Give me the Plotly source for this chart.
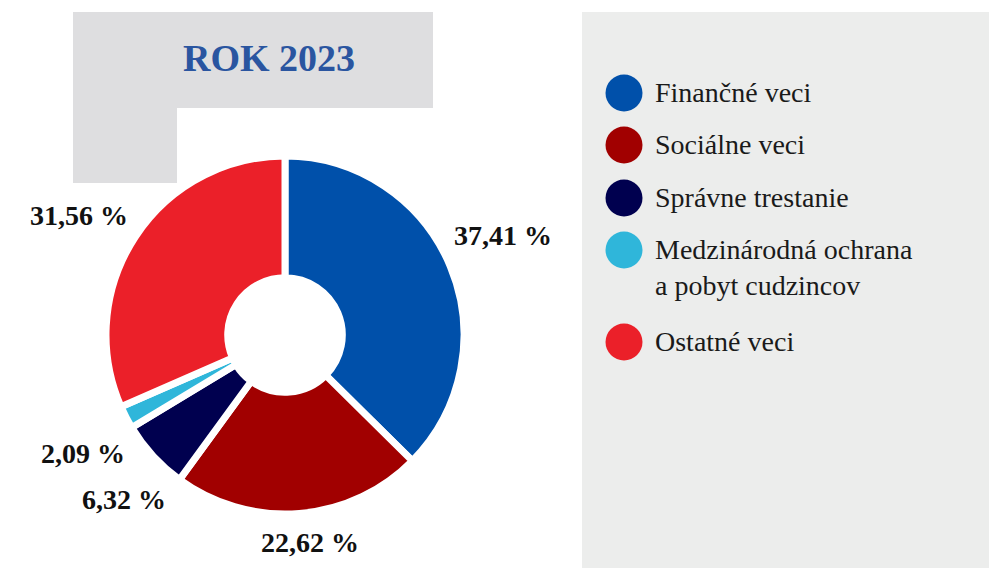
import math
import plotly.graph_objects as go

categories = ["Finančné veci", "Sociálne veci", "Správne trestanie",
              "Medzinárodná ochrana<br>a pobyt cudzincov", "Ostatné veci"]
values = [37.41, 22.62, 6.32, 2.09, 31.56]
colors = ["#0050AA", "#A10000", "#00004F", "#2FB6DA", "#EB2029"]
title_text = "ROK 2023"

W, H = 989, 568
SERIF = "Liberation Serif, Times New Roman, serif"

def px(x):
    return x / W

def py(y):
    return 1 - y / H

# pie geometry (pixels)
CX, CY, R = 285, 335, 176
RD = R + 3  # domain half-size (plotly draws slightly inside)

fig = go.Figure()
fig.add_trace(go.Pie(
    labels=categories, values=values, sort=False, direction="clockwise",
    rotation=0, hole=0.32,
    marker=dict(colors=colors, line=dict(color="white", width=7)),
    textinfo="none",
    showlegend=False, hoverinfo="label+percent",
    domain=dict(x=[px(CX - RD), px(CX + RD)], y=[py(CY + RD), py(CY - RD)]),
))

shapes = [
    dict(type="rect", xref="paper", yref="paper", x0=px(73), x1=px(433), y0=py(108), y1=py(12),
         fillcolor="#DEDEE0", line=dict(width=0), layer="below"),
    dict(type="rect", xref="paper", yref="paper", x0=px(73), x1=px(177), y0=py(183), y1=py(107),
         fillcolor="#DEDEE0", line=dict(width=0), layer="below"),
    dict(type="rect", xref="paper", yref="paper", x0=px(582), x1=1.0, y0=0.0, y1=py(12),
         fillcolor="#ECEDEC", line=dict(width=0), layer="below"),
]
annotations = [
    dict(text="<b>" + title_text + "</b>", xref="paper", yref="paper", x=px(269), y=py(58),
         showarrow=False, font=dict(family=SERIF, size=38, color="#2A55A0"),
         xanchor="center", yanchor="middle"),
]

# value labels placed radially outside each slice
total = sum(values)
cum = 0.0
LABEL_SIZE = 28
ANGLE_SHIFT = math.radians(-2.5)
for v in values:
    mid = (cum + v / 2) / total * 2 * math.pi + ANGLE_SHIFT
    cum += v
    txt = f"{v:.2f}".replace(".", ",") + " %"
    hw = len(txt) * LABEL_SIZE * 0.28
    hh = LABEL_SIZE * 0.5
    s, c = math.sin(mid), math.cos(mid)
    d = R + 9 + abs(s) * hw + abs(c) * hh
    lx = CX + d * s
    ly = CY - d * c + 3
    annotations.append(dict(text="<b>" + txt + "</b>", xref="paper", yref="paper",
                            x=px(lx), y=py(ly), showarrow=False,
                            xanchor="center", yanchor="middle",
                            font=dict(family=SERIF, size=LABEL_SIZE, color="#111111")))

legend_y = [93, 145, 198, 250, 342]
for cat, col, ly in zip(categories, colors, legend_y):
    r = 18.5
    shapes.append(dict(type="circle", xref="paper", yref="paper",
                       x0=px(624 - r), x1=px(624 + r), y0=py(ly + r), y1=py(ly - r),
                       fillcolor=col, line=dict(width=0)))
    annotations.append(dict(text=cat, xref="paper", yref="paper", x=px(653), y=py(ly - 18),
                            showarrow=False, xanchor="left", yanchor="top", align="left",
                            font=dict(family=SERIF, size=28, color="#1A1A1A")))

fig.update_layout(
    width=W, height=H, margin=dict(l=0, r=0, t=0, b=0),
    paper_bgcolor="white", plot_bgcolor="white",
    separators=", ", shapes=shapes, annotations=annotations,
)
fig.write_html("out.html", config={"displayModeBar": False},
               post_script="document.body.style.margin='0';document.body.style.overflow='hidden';")
